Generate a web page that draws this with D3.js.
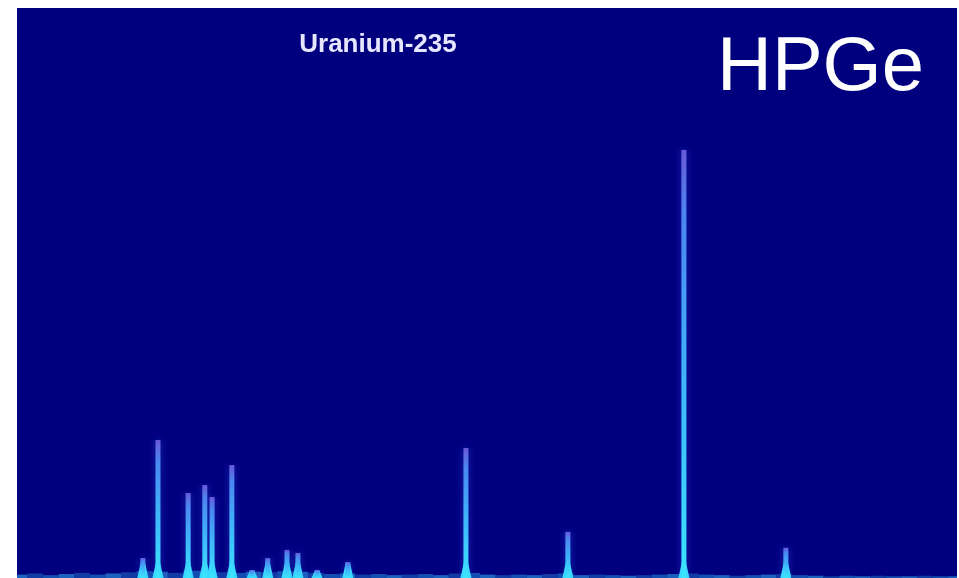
<!DOCTYPE html>
<html>
<head>
<meta charset="utf-8">
<script src="https://cdn.jsdelivr.net/npm/d3@7"></script>
<style>
  html, body { margin: 0; padding: 0; background: #ffffff; }
  svg { display: block; }
</style>
</head>
<body>
<svg id="chart" width="959" height="578"></svg>
<script>
// Gamma-ray lines of a U-235 source (energy in keV, relative counts)
const peakEnergies = [81.7, 84.6, 90.4, 93.6, 95.0, 98.8, 102.7, 105.7, 109.4, 111.5, 115.2, 121.1, 143.8, 163.4, 185.7, 205.3];
const peakCounts   = [35,   242,  149,  163,  142,  198,  14,    35,    49,    44,    14,    28,    228,   81,    751,   53];

// Low continuum under the lines, sampled every 3 keV from 58 keV
const continuumEnergies = [58, 61, 64, 67, 70, 73, 76, 79, 82, 85, 88, 91, 94, 97, 100, 103, 106, 109, 112, 115, 118, 121, 124, 127, 130, 133, 136, 139, 142, 145, 148, 151, 154, 157, 160, 163, 166, 169, 172, 175, 178, 181, 184, 187, 190, 193, 196, 199, 202, 205, 208, 211, 214, 217, 220, 223, 226, 229, 232, 235, 238];
const continuumCounts   = [6, 8, 5, 7, 9, 6, 8, 10, 12, 11, 9, 13, 12, 10, 9, 11, 10, 12, 11, 9, 7, 8, 6, 7, 5, 6, 7, 5, 8, 9, 6, 5, 6, 5, 7, 8, 5, 6, 5, 4, 5, 6, 7, 8, 6, 5, 4, 5, 6, 7, 5, 4, 3, 4, 3, 4, 3, 3, 4, 3, 3];

const titleText = "Uranium-235";
const detectorText = "HPGe";

const svg = d3.select("#chart");
const plot = { left: 17, top: 8, right: 957, bottom: 578 };

const x = d3.scaleLinear().domain([57.5, 238.2]).range([plot.left, plot.right]);
const y = d3.scaleLinear().domain([0, 1000]).range([plot.bottom, plot.top]);

const defs = svg.append("defs");
defs.append("clipPath").attr("id", "plotClip")
  .append("rect")
  .attr("x", plot.left).attr("y", plot.top)
  .attr("width", plot.right - plot.left).attr("height", plot.bottom - plot.top);

const grad = defs.append("linearGradient")
  .attr("id", "lineGrad").attr("x1", 0).attr("y1", 1).attr("x2", 0).attr("y2", 0);
grad.append("stop").attr("offset", "0%").attr("stop-color", "#3ae4ff");
grad.append("stop").attr("offset", "45%").attr("stop-color", "#3fb6fb");
grad.append("stop").attr("offset", "85%").attr("stop-color", "#4c86f0");
grad.append("stop").attr("offset", "100%").attr("stop-color", "#6a5ad8");

const soft = defs.append("filter").attr("id", "soft")
  .attr("x", "-50%").attr("y", "-5%").attr("width", "200%").attr("height", "110%");
soft.append("feGaussianBlur").attr("stdDeviation", 0.5);

const glow = defs.append("filter").attr("id", "glow")
  .attr("x", "-100%").attr("y", "-10%").attr("width", "300%").attr("height", "120%");
glow.append("feGaussianBlur").attr("stdDeviation", 3);

// plot background
svg.append("rect")
  .attr("x", plot.left).attr("y", plot.top)
  .attr("width", plot.right - plot.left).attr("height", plot.bottom - plot.top)
  .attr("fill", "#00007f");

const area = svg.append("g").attr("clip-path", "url(#plotClip)");

const step = x(61) - x(58);

// continuum
const cont = d3.range(continuumEnergies.length).map(i => [continuumEnergies[i], continuumCounts[i]]);
area.append("g").attr("filter", "url(#soft)").selectAll("rect")
  .data(cont)
  .join("rect")
  .attr("x", d => x(d[0]) - step / 2)
  .attr("y", d => y(d[1]))
  .attr("width", step)
  .attr("height", d => y(0) - y(d[1]))
  .attr("fill", (d, i) => i % 3 === 0 ? "#2a8ad8" : (i % 3 === 1 ? "#1856b4" : "#1f70c4"))
  .attr("opacity", 0.7);

const peaks = d3.range(peakEnergies.length).map(i => ({ e: peakEnergies[i], c: peakCounts[i] }));

// faint halo around each line
area.append("g").attr("filter", "url(#glow)").selectAll("rect")
  .data(peaks)
  .join("rect")
  .attr("x", d => x(d.e) - 4)
  .attr("y", d => y(d.c))
  .attr("width", 8)
  .attr("height", d => y(0) - y(d.c))
  .attr("fill", "#2438c8")
  .attr("opacity", 0.45);

const g = area.append("g").attr("filter", "url(#soft)");

// widened foot of each line
g.selectAll("path.foot")
  .data(peaks)
  .join("path")
  .attr("class", "foot")
  .attr("d", d => {
    const cx = x(d.e), h = Math.min(y(0) - y(d.c), 16);
    return `M${cx - 5.5},${y(0)} L${cx - 2},${y(0) - h} L${cx + 2},${y(0) - h} L${cx + 5.5},${y(0)} Z`;
  })
  .attr("fill", "#38d8ff");

// line body
g.selectAll("rect.line")
  .data(peaks)
  .join("rect")
  .attr("class", "line")
  .attr("x", d => x(d.e) - 2.5)
  .attr("y", d => y(d.c))
  .attr("width", 5)
  .attr("height", d => y(0) - y(d.c))
  .attr("fill", "url(#lineGrad)");

// title and detector label
svg.append("text")
  .attr("x", 378).attr("y", 52)
  .attr("text-anchor", "middle")
  .attr("font-family", "Liberation Sans, Arial, sans-serif")
  .attr("font-weight", "bold")
  .attr("font-size", 26)
  .attr("fill", "#e6e6ff")
  .attr("filter", "url(#soft)")
  .text(titleText);

svg.append("text")
  .attr("x", 717).attr("y", 90)
  .attr("font-family", "Liberation Sans, Arial, sans-serif")
  .attr("font-size", 76)
  .attr("fill", "#ffffff")
  .text(detectorText);
</script>
</body>
</html>
